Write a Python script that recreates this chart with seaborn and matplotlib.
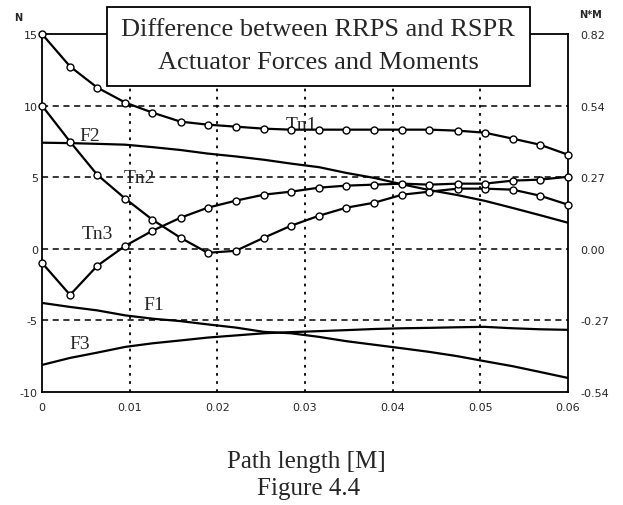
import numpy as np
import pandas as pd
import seaborn as sns
import matplotlib.pyplot as plt
from matplotlib.patches import Rectangle

# path length grid [m]
path = [0, 0.0032, 0.0063, 0.0095, 0.0126, 0.0158, 0.0189, 0.0221, 0.0253, 0.0284,
        0.0316, 0.0347, 0.0379, 0.0411, 0.0442, 0.0474, 0.0505, 0.0537, 0.0568, 0.06]

# moment differences (marked curves)
tn1 = [15.0, 12.73, 11.26, 10.21, 9.51, 8.88, 8.67, 8.53, 8.39, 8.32,
       8.32, 8.32, 8.32, 8.32, 8.32, 8.25, 8.11, 7.69, 7.27, 6.57]
tn2 = [10.0, 7.48, 5.17, 3.50, 2.03, 0.77, -0.28, -0.14, 0.77, 1.61,
       2.31, 2.87, 3.22, 3.78, 3.99, 4.20, 4.20, 4.13, 3.71, 3.08]
tn3 = [-0.98, -3.22, -1.19, 0.21, 1.26, 2.17, 2.87, 3.36, 3.78, 3.99,
       4.27, 4.41, 4.48, 4.55, 4.48, 4.55, 4.55, 4.76, 4.83, 5.03]

# force differences (plain curves)
f1 = [-3.78, -4.06, -4.30, -4.65, -4.88, -5.05, -5.28, -5.50, -5.80, -5.90,
      -6.15, -6.45, -6.70, -6.95, -7.20, -7.50, -7.85, -8.20, -8.60, -9.02]
f2 = [7.41, 7.38, 7.33, 7.27, 7.10, 6.90, 6.65, 6.45, 6.22, 5.95,
      5.70, 5.30, 4.95, 4.50, 4.10, 3.75, 3.35, 2.85, 2.35, 1.82]
f3 = [-8.11, -7.62, -7.25, -6.85, -6.60, -6.40, -6.20, -6.05, -5.90, -5.82,
      -5.75, -5.68, -5.60, -5.55, -5.52, -5.48, -5.45, -5.55, -5.62, -5.66]

x_ticks = [0, 0.01, 0.02, 0.03, 0.04, 0.05, 0.06]
x_labels = ["0", "0.01", "0.02", "0.03", "0.04", "0.05", "0.06"]
y_ticks = [15, 10, 5, 0, -5, -10]
y_right_labels = ["0.82", "0.54", "0.27", "0.00", "-0.27", "-0.54"]

df = pd.DataFrame({"x": path, "Tn1": tn1, "Tn2": tn2, "Tn3": tn3,
                   "F1": f1, "F2": f2, "F3": f3})

sns.set_style("white")
serif = "Liberation Serif"

fig = plt.figure(figsize=(6.23, 5.06), dpi=100)
ax = fig.add_axes([42 / 623, 1 - 393 / 506, 526 / 623, 358 / 506])

# grid
for yv in [10, 5, 0, -5]:
    ax.axhline(yv, color="black", lw=1.1, ls=(0, (4, 3)), zorder=1)
for xv in [0.01, 0.02, 0.03, 0.04, 0.05]:
    ax.axvline(xv, color="black", lw=1.3, ls=(0, (1.5, 3)), zorder=1)

for col in ["F1", "F2", "F3"]:
    sns.lineplot(data=df, x="x", y=col, ax=ax, color="black", lw=1.6, zorder=3)
for col in ["Tn1", "Tn2", "Tn3"]:
    sns.lineplot(data=df, x="x", y=col, ax=ax, color="black", lw=1.6, marker="o",
                 markersize=5, markerfacecolor="white", markeredgecolor="black",
                 markeredgewidth=1.0, zorder=4, clip_on=False)

ax.set_xlim(0, 0.06)
ax.set_ylim(-10, 15)
ax.set_xticks(x_ticks)
ax.set_xticklabels(x_labels)
ax.set_yticks(y_ticks)
ax.set_yticklabels([str(v) for v in y_ticks])
ax.set_xlabel("")
ax.set_ylabel("")
ax.tick_params(axis="x", length=0, pad=7, labelsize=8)
ax.tick_params(axis="y", length=0, pad=3, labelsize=8)
for s in ax.spines.values():
    s.set_color("black")
    s.set_linewidth(1.3)

ax2 = ax.twinx()
ax2.set_ylim(-10, 15)
ax2.set_yticks(y_ticks)
ax2.set_yticklabels(y_right_labels)
ax2.tick_params(axis="y", length=0, pad=9, labelsize=8)
for s in ax2.spines.values():
    s.set_visible(False)

# curve labels
txt = dict(family=serif, fontsize=14, ha="center", va="center")
ax.text(0.0296, 8.7, "Tn1", **txt)
ax.text(0.0055, 7.9, "F2", **txt)
ax.text(0.0111, 5.0, "Tn2", **txt)
ax.text(0.0063, 1.1, "Tn3", **txt)
ax.text(0.0127, -3.9, "F1", **txt)
ax.text(0.0043, -6.6, "F3", **txt)

# unit labels
fig.text(18 / 623, 1 - 18 / 506, "N", fontsize=7, fontweight="bold", ha="center", va="center")
fig.text(590 / 623, 1 - 15 / 506, "N*M", fontsize=7, fontweight="bold", ha="center", va="center")

# title box
fig.add_artist(Rectangle((107 / 623, 1 - 87 / 506), 423 / 623, 79 / 506,
                         transform=fig.transFigure, facecolor="white",
                         edgecolor="black", lw=1.3, zorder=10))
fig.text(318 / 623, 1 - 30 / 506, "Difference between RRPS and RSPR", family=serif,
         fontsize=19, ha="center", va="center", zorder=11)
fig.text(318 / 623, 1 - 63 / 506, "Actuator Forces and Moments", family=serif,
         fontsize=19, ha="center", va="center", zorder=11)

fig.text(306 / 623, 1 - 462 / 506, "Path length [M]", family=serif, fontsize=18,
         ha="center", va="center")
fig.text(309 / 623, 1 - 489 / 506, "Figure 4.4", family=serif, fontsize=18,
         ha="center", va="center")

fig.savefig("out.png", dpi=100)
